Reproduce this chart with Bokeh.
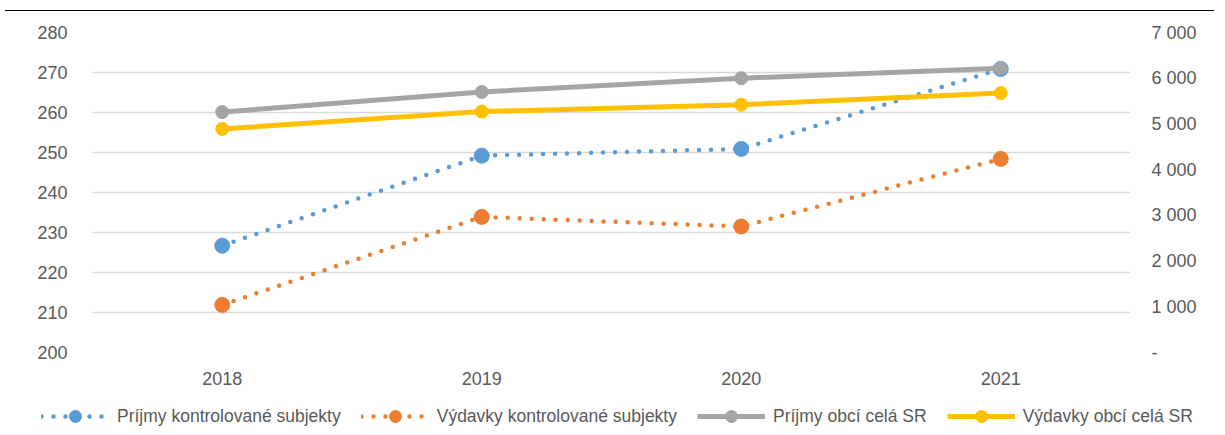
from bokeh.plotting import figure
from bokeh.models import (FactorRange, Range1d, LinearAxis, FixedTicker, Legend,
                          LegendItem, Div)
from bokeh.layouts import column, row
from bokeh.embed import file_html
from bokeh.resources import INLINE

# ---- data ----
years = ["2018", "2019", "2020", "2021"]
prijmy_kontrol = [226.7, 249.2, 250.9, 270.9]      # left axis
vydavky_kontrol = [211.9, 233.9, 231.5, 248.4]     # left axis
prijmy_obci = [5260, 5700, 6000, 6220]             # right axis
vydavky_obci = [4890, 5270, 5420, 5675]            # right axis

left_ticks = [200, 210, 220, 230, 240, 250, 260, 270, 280]
right_ticks = [0, 1000, 2000, 3000, 4000, 5000, 6000, 7000]
right_labels = ["-", "1 000", "2 000", "3 000", "4 000", "5 000", "6 000", "7 000"]

series_names = ["Príjmy kontrolované subjekty", "Výdavky kontrolované subjekty",
                "Príjmy obcí celá SR", "Výdavky obcí celá SR"]

BLUE, ORANGE, GREY, YELLOW = "#5B9BD5", "#ED7D31", "#A5A5A5", "#FFC000"
TXT = "#595959"
FONT = "Liberation Sans"
FS = "18px"

DOTTED = dict(line_width=4.5, line_dash="0 12", line_cap="round")
SOLID = dict(line_width=5, line_join="round")

p = figure(x_range=FactorRange(factors=years, range_padding=0),
           y_range=Range1d(200, 280),
           frame_width=1038, frame_height=320,
           min_border_left=92, min_border_right=79,
           min_border_top=16, min_border_bottom=48,
           output_backend="svg", toolbar_location=None)
p.outline_line_color = None
p.extra_y_ranges = {"right": Range1d(0, 7000)}

raxis = LinearAxis(y_range_name="right", ticker=FixedTicker(ticks=right_ticks),
                   major_label_overrides=dict(zip(right_ticks, right_labels)))
p.add_layout(raxis, "right")

p.yaxis[0].ticker = FixedTicker(ticks=left_ticks)
for ax, st in ((p.xaxis[0], 19), (p.yaxis[0], 25), (raxis, 21)):
    ax.axis_line_color = None
    ax.major_tick_line_color = None
    ax.minor_tick_line_color = None
    ax.major_tick_out = 0
    ax.major_tick_in = 0
    ax.major_label_standoff = st
    ax.major_label_text_font = FONT
    ax.major_label_text_font_size = FS
    ax.major_label_text_color = TXT

p.xgrid.grid_line_color = None
p.ygrid.ticker = FixedTicker(ticks=left_ticks)
p.ygrid.grid_line_color = "#D9D9D9"
p.ygrid.grid_line_width = 1.5

p.line(years, prijmy_kontrol, line_color=BLUE, **DOTTED)
p.scatter(years, prijmy_kontrol, size=15, color=BLUE)
p.line(years, vydavky_kontrol, line_color=ORANGE, **DOTTED)
p.scatter(years, vydavky_kontrol, size=15, color=ORANGE)
p.line(years, prijmy_obci, line_color=GREY, y_range_name="right", **SOLID)
p.scatter(years, prijmy_obci, size=13, color=GREY, y_range_name="right")
p.line(years, vydavky_obci, line_color=YELLOW, y_range_name="right", **SOLID)
p.scatter(years, vydavky_obci, size=13, color=YELLOW, y_range_name="right")

# ---- legend strip: separate figure (a legend is clipped to its plot's frame);
# its renderers reuse the series but lie outside this strip's y range ----
lg = figure(width=1209, height=27,
            min_border_left=0, min_border_right=0,
            min_border_top=0, min_border_bottom=0,
            x_range=FactorRange(factors=years, range_padding=0),
            y_range=Range1d(-2, -1),
            x_axis_location=None, y_axis_location=None,
            output_backend="svg", toolbar_location=None)
lg.grid.visible = False
lg.outline_line_color = None

items = []
for name, vals, col, style, sz in ((series_names[0], prijmy_kontrol, BLUE, DOTTED, 15),
                                   (series_names[1], vydavky_kontrol, ORANGE, DOTTED, 15),
                                   (series_names[2], prijmy_obci, GREY, SOLID, 13),
                                   (series_names[3], vydavky_obci, YELLOW, SOLID, 13)):
    rl = lg.line(years, vals, line_color=col, **style)
    rs = lg.scatter(years, vals, size=sz, color=col)
    items.append(LegendItem(label=name, renderers=[rl, rs]))

legend = Legend(items=items, orientation="horizontal", location=(41, -4),
                glyph_width=68, glyph_height=30, label_standoff=8, spacing=20,
                padding=0, margin=0, border_line_color=None,
                background_fill_alpha=0,
                label_text_font=FONT, label_text_font_size="17.5px",
                label_text_color=TXT)
lg.add_layout(legend)

rule = Div(text="", width=1209, height=6,
           styles={"border-bottom": "1.5px solid #000000"})

layout = column(rule, p, row(lg))
open("out.html", "w").write(file_html(layout, INLINE))
